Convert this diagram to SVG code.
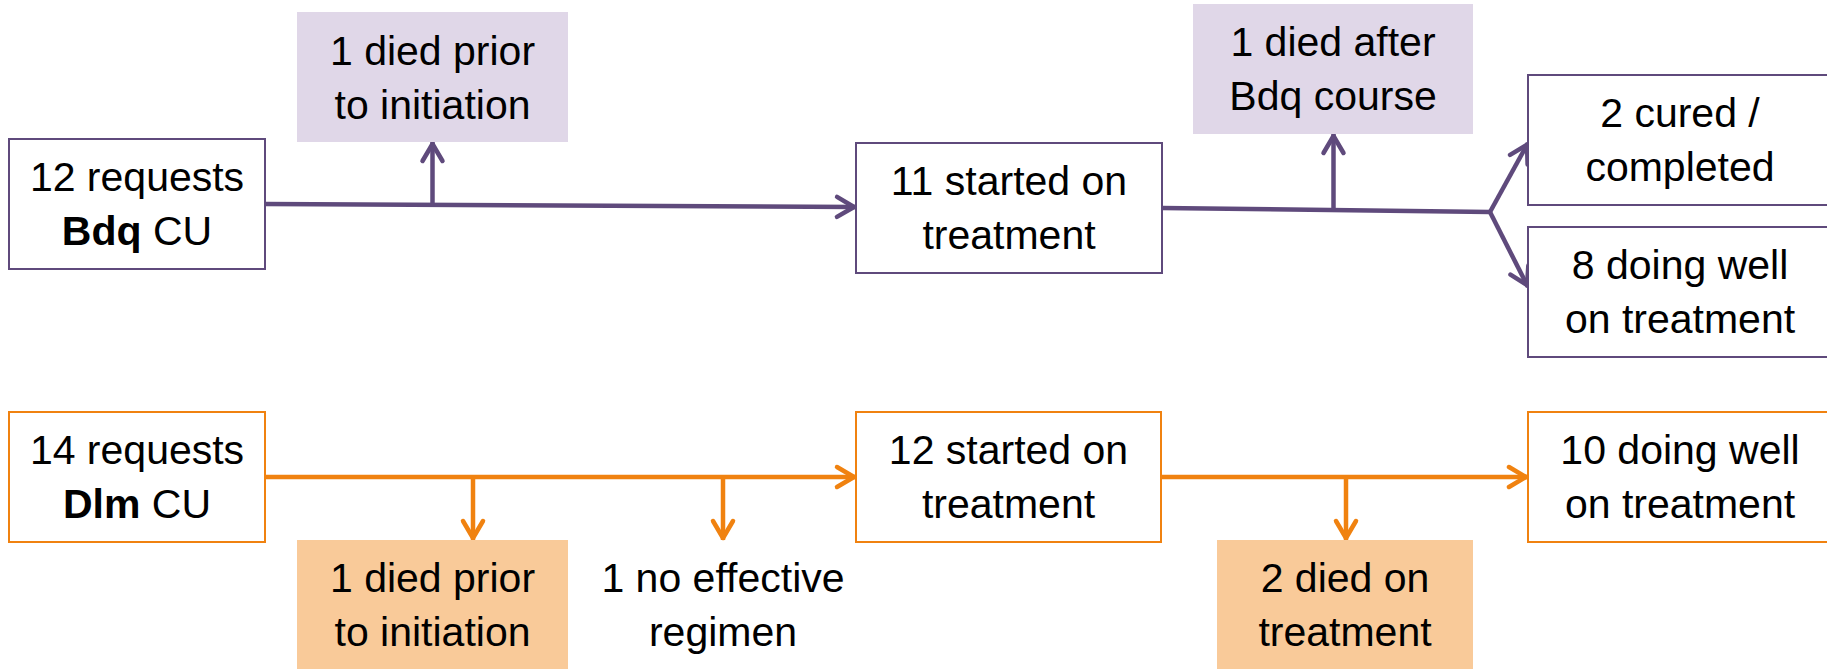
<svg xmlns="http://www.w3.org/2000/svg" width="1827" height="669" viewBox="0 0 1827 669">
<style>
text{font-family:"Liberation Sans",Arial,sans-serif;font-size:41px;fill:#000;text-anchor:middle}
.bp{fill:#fff;stroke:#5f4a7c;stroke-width:2}
.bo{fill:#fff;stroke:#f08210;stroke-width:2}
.fp{fill:#e0d7e8}
.fo{fill:#f9ca99}
.lp{fill:none;stroke:#5f4a7c;stroke-width:4.5}
.lo{fill:none;stroke:#f08210;stroke-width:4.5}
</style>
<defs>
<marker id="ap" markerUnits="userSpaceOnUse" markerWidth="40" markerHeight="40" viewBox="-30 -20 40 40" refX="0" refY="0" orient="auto" overflow="visible">
<path d="M-19,-10 L-2,0 L-19,10" fill="none" stroke="#5f4a7c" stroke-width="4.5" stroke-linecap="round" stroke-linejoin="round"/>
</marker>
<marker id="ao" markerUnits="userSpaceOnUse" markerWidth="40" markerHeight="40" viewBox="-30 -20 40 40" refX="0" refY="0" orient="auto" overflow="visible">
<path d="M-19,-10 L-2,0 L-19,10" fill="none" stroke="#f08210" stroke-width="4.5" stroke-linecap="round" stroke-linejoin="round"/>
</marker>
</defs>
<rect width="1827" height="669" fill="#fff"/>
<g id="connectors">
<line class="lp" x1="265" y1="204" x2="856" y2="207" marker-end="url(#ap)"/>
<line class="lp" x1="432.5" y1="205" x2="432.5" y2="142" marker-end="url(#ap)"/>
<polyline class="lp" points="1162,208 1490,212"/>
<line class="lp" x1="1333.5" y1="211" x2="1333.5" y2="134" marker-end="url(#ap)"/>
<line class="lp" x1="1490" y1="212" x2="1528" y2="143" marker-end="url(#ap)"/>
<line class="lp" x1="1490" y1="212" x2="1528" y2="287" marker-end="url(#ap)"/>
<line class="lo" x1="265" y1="477" x2="856" y2="477" marker-end="url(#ao)"/>
<line class="lo" x1="473" y1="477" x2="473" y2="540" marker-end="url(#ao)"/>
<line class="lo" x1="723" y1="477" x2="723" y2="540" marker-end="url(#ao)"/>
<line class="lo" x1="1161" y1="477" x2="1528" y2="477" marker-end="url(#ao)"/>
<line class="lo" x1="1346" y1="477" x2="1346" y2="540" marker-end="url(#ao)"/>
</g>
<g id="bdq-requests"><rect class="bp" x="9" y="139" width="256" height="130"/><text x="137" y="191">12 requests</text><text x="137" y="245"><tspan font-weight="bold">Bdq</tspan> CU</text></g>
<g id="bdq-died-prior"><rect class="fp" x="297" y="12" width="271" height="130"/><text x="432.5" y="65">1 died prior</text><text x="432.5" y="119">to initiation</text></g>
<g id="bdq-started"><rect class="bp" x="856" y="143" width="306" height="130"/><text x="1009" y="195">11 started on</text><text x="1009" y="249">treatment</text></g>
<g id="bdq-died-after"><rect class="fp" x="1193" y="4" width="280" height="130"/><text x="1333" y="56">1 died after</text><text x="1333" y="110">Bdq course</text></g>
<g id="bdq-cured"><rect class="bp" x="1528" y="75" width="310" height="130"/><text x="1680" y="127">2 cured /</text><text x="1680" y="181">completed</text></g>
<g id="bdq-doing-well"><rect class="bp" x="1528" y="227" width="310" height="130"/><text x="1680" y="279">8 doing well</text><text x="1680" y="333">on treatment</text></g>
<g id="dlm-requests"><rect class="bo" x="9" y="412" width="256" height="130"/><text x="137" y="464">14 requests</text><text x="137" y="518"><tspan font-weight="bold">Dlm</tspan> CU</text></g>
<g id="dlm-died-prior"><rect class="fo" x="297" y="540" width="271" height="135"/><text x="432.5" y="592">1 died prior</text><text x="432.5" y="646">to initiation</text></g>
<g id="dlm-no-regimen"><text x="723" y="592">1 no effective</text><text x="723" y="646">regimen</text></g>
<g id="dlm-started"><rect class="bo" x="856" y="412" width="305" height="130"/><text x="1008.5" y="464">12 started on</text><text x="1008.5" y="518">treatment</text></g>
<g id="dlm-died-on"><rect class="fo" x="1217" y="540" width="256" height="135"/><text x="1345" y="592">2 died on</text><text x="1345" y="646">treatment</text></g>
<g id="dlm-doing-well"><rect class="bo" x="1528" y="412" width="310" height="130"/><text x="1680" y="464">10 doing well</text><text x="1680" y="518">on treatment</text></g>
</svg>
